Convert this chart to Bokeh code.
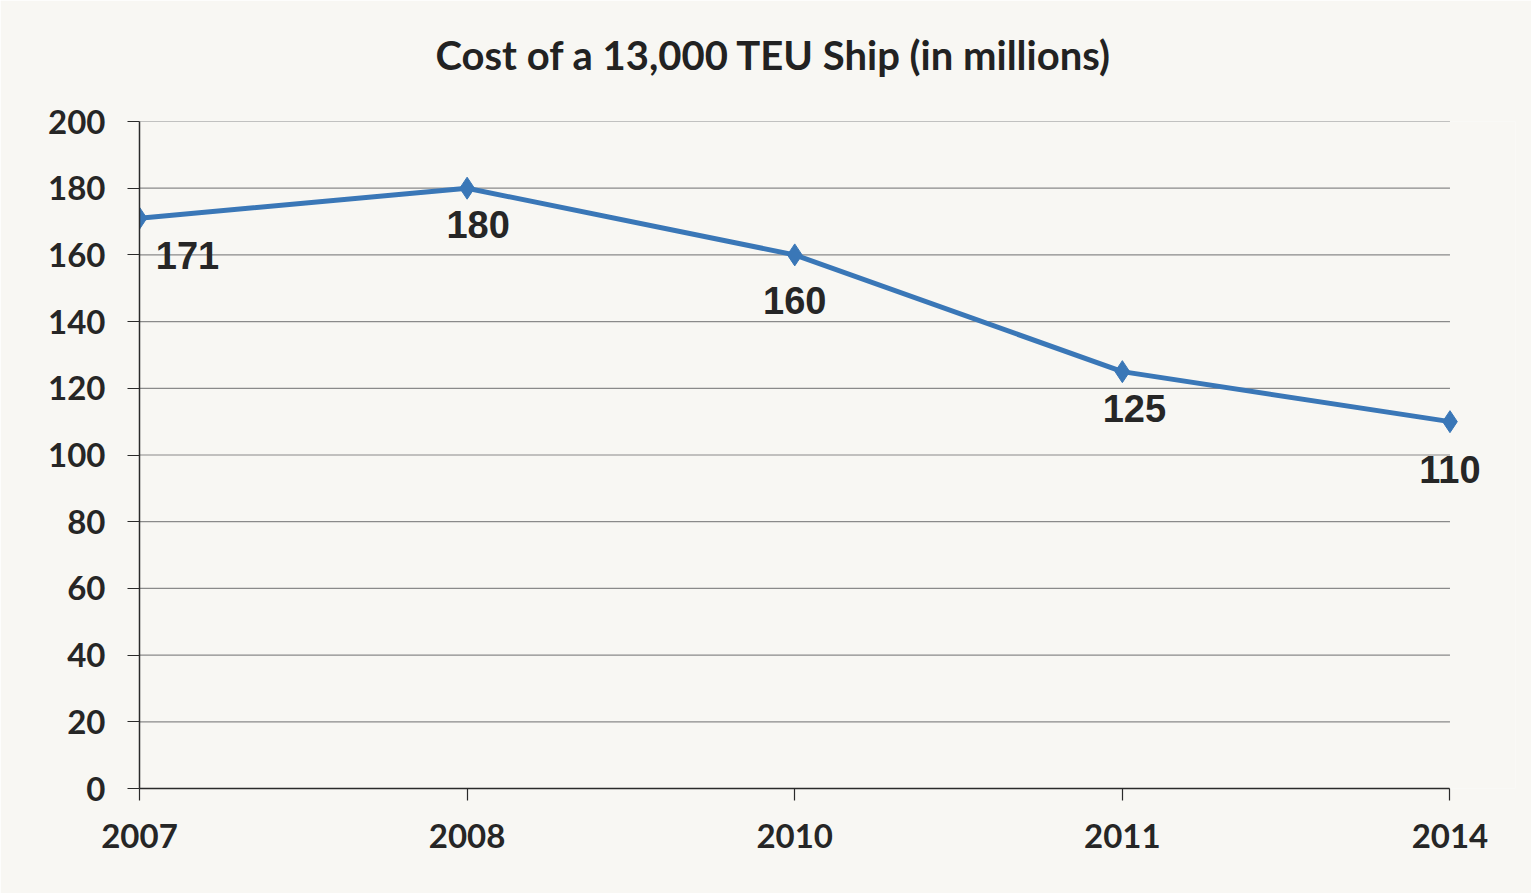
from bokeh.plotting import figure
from bokeh.models import Range1d, FixedTicker, ColumnDataSource, LabelSet, Title
from bokeh.core.properties import value
from bokeh.embed import file_html
from bokeh.resources import INLINE

years = ["2007", "2008", "2010", "2011", "2014"]
cost = [171, 180, 160, 125, 110]
y_ticks = [0, 20, 40, 60, 80, 100, 120, 140, 160, 180, 200]
title_text = "Cost of a 13,000 TEU Ship (in millions)"

# label styling offsets (pixels), as placed in the original
label_dx = [48, 11, 0, 12, 0]
label_dy = [-37, -36, -46, -37, -48]

BG = "#f8f7f3"
BLUE = "#3a77b7"

idx = list(range(len(years)))
last = len(years) - 1
src = ColumnDataSource(dict(x=idx, y=cost, lab=[str(v) for v in cost], dx=label_dx, dy=label_dy))
grid_src = ColumnDataSource(dict(x0=[0] * len(y_ticks), x1=[last] * len(y_ticks), y=y_ticks))

# frame extends a little past the last category so its label is not clipped
p = figure(width=1531, height=893, output_backend="svg", toolbar_location=None,
           x_range=Range1d(0, last + 0.2), y_range=Range1d(0, 200),
           min_border_left=139, min_border_right=16, min_border_top=121, min_border_bottom=105)
p.background_fill_color = BG
p.border_fill_color = BG
p.outline_line_color = None
p.title = None

# spacer between frame and title, then the title itself
p.add_layout(Title(text=" ", text_font_size="1px", standoff=35), "above")
p.add_layout(Title(text=title_text, align="left", offset=296, text_font="Lato",
                   text_font_style="bold", text_font_size="40px", text_color="#222222",
                   standoff=10), "above")

# axes
p.xaxis.ticker = FixedTicker(ticks=idx)
p.xaxis.major_label_overrides = {i: y for i, y in zip(idx, years)}
p.xaxis.bounds = (0, last)
p.yaxis.ticker = FixedTicker(ticks=y_ticks)
for ax in (p.xaxis[0], p.yaxis[0]):
    ax.axis_line_color = "#2a2a2a"
    ax.axis_line_width = 1.5
    ax.major_tick_line_color = "#2a2a2a"
    ax.major_tick_line_width = 1.2
    ax.major_tick_out = 12
    ax.major_tick_in = 0
    ax.minor_tick_line_color = None
    ax.major_label_text_font = "Lato"
    ax.major_label_text_font_style = "bold"
    ax.major_label_text_font_size = "33px"
    ax.major_label_text_color = "#262626"
p.yaxis.major_label_standoff = 22
p.xaxis.major_label_standoff = 23

p.xgrid.grid_line_color = None
p.ygrid.grid_line_color = None
p.segment("x0", "y", "x1", "y", source=grid_src, line_color="#8a8a8a", line_width=1.2)

p.line("x", "y", source=src, line_color=BLUE, line_width=5)
p.scatter("x", "y", source=src, marker="diamond", size=22, fill_color=BLUE, line_color=BLUE)
labels = LabelSet(x="x", y="y", text="lab", source=src, x_offset="dx", y_offset="dy",
                  text_align="center", text_baseline="middle",
                  text_font=value("Liberation Sans"), text_font_style="bold",
                  text_font_size="38px", text_color="#262626", level="overlay")
p.add_layout(labels)

html = file_html(p, INLINE)
open("out.html", "w").write(html)
